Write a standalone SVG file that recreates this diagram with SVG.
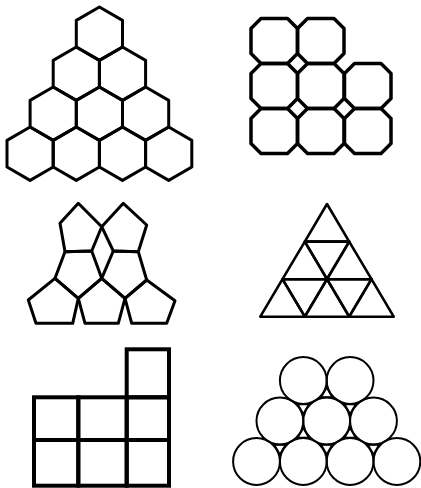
<svg xmlns="http://www.w3.org/2000/svg" xmlns:xlink="http://www.w3.org/1999/xlink" width="421" height="488" viewBox="0 0 421 488">
<style>
.ln{fill:none;stroke:#000;stroke-linejoin:round;stroke-linecap:round}
.hex{stroke-width:3}
.oct{stroke-width:3.5}
.pen{stroke-width:3}
.tri{stroke-width:2.6}
.sq{stroke-width:4;stroke-linejoin:miter;stroke-linecap:square}
.cir{stroke-width:2}
.gap{stroke-width:1.8}
</style>
<defs>
<polygon id="hx" points="0,-26.67 23.1,-13.33 23.1,13.33 0,26.67 -23.1,13.33 -23.1,-13.33"/>
<polygon id="oc" points="-13.25,-22.5 13.25,-22.5 23.25,-12.5 23.25,12.5 13.25,22.5 -13.25,22.5 -23.25,12.5 -23.25,-12.5"/>
<polygon id="tu" points="0,-6.5 5.6,3.25 -5.6,3.25"/>
<polygon id="td" points="0,6.5 5.6,-3.25 -5.6,-3.25"/>
</defs>
<rect width="421" height="488" fill="#fff"/>

<g id="hexagons" class="ln hex">
<g id="hex-r1-1"><use href="#hx" x="99.4" y="33.7"/></g>
<g id="hex-r2-1"><use href="#hx" x="76.3" y="73.7"/></g>
<g id="hex-r2-2"><use href="#hx" x="122.5" y="73.7"/></g>
<g id="hex-r3-1"><use href="#hx" x="53.2" y="113.7"/></g>
<g id="hex-r3-2"><use href="#hx" x="99.4" y="113.7"/></g>
<g id="hex-r3-3"><use href="#hx" x="145.6" y="113.7"/></g>
<g id="hex-r4-1"><use href="#hx" x="30.1" y="153.7"/></g>
<g id="hex-r4-2"><use href="#hx" x="76.3" y="153.7"/></g>
<g id="hex-r4-3"><use href="#hx" x="122.5" y="153.7"/></g>
<g id="hex-r4-4"><use href="#hx" x="168.7" y="153.7"/></g>
</g>

<g id="octagons" class="ln oct">
<g id="oct-r1-1"><use href="#oc" x="274.25" y="41"/></g>
<g id="oct-r1-2"><use href="#oc" x="320.75" y="41"/></g>
<g id="oct-r2-1"><use href="#oc" x="274.25" y="86"/></g>
<g id="oct-r2-2"><use href="#oc" x="320.75" y="86"/></g>
<g id="oct-r2-3"><use href="#oc" x="367.75" y="86"/></g>
<g id="oct-r3-1"><use href="#oc" x="274.25" y="131"/></g>
<g id="oct-r3-2"><use href="#oc" x="320.75" y="131"/></g>
<g id="oct-r3-3"><use href="#oc" x="367.75" y="131"/></g>
</g>

<g id="pentagons" class="ln pen">
<g id="pen-tl"><polygon points="78.3,203.3 101.7,226.7 91.7,251 65,251.7 60,223.3"/></g>
<g id="pen-tr"><polygon points="123.3,203.3 146.7,225 138.3,251.7 113.3,251 101.7,226.7"/></g>
<g id="pen-ml"><polygon points="65,251.7 91.7,251 101.7,278.3 78.3,298.3 55,278.3"/></g>
<g id="pen-mr"><polygon points="113.3,251 138.3,251.7 146.7,280 125,298.3 101.7,278.3"/></g>
<g id="pen-bl"><polygon points="55,278.3 78.3,298.3 72.7,323.3 36,323.3 28.3,300"/></g>
<g id="pen-bm"><polygon points="101.7,278.3 125,298.3 118.3,323.3 85,323.3 78.3,298.3"/></g>
<g id="pen-br"><polygon points="146.7,280 175,300.7 166.7,323.3 131.7,323.3 125,298.3"/></g>
</g>

<g id="triangles" class="ln tri">
<g id="tri-u1"><polygon points="327,204 304.8,241.6 349.2,241.6"/></g>
<g id="tri-u2"><polygon points="304.8,241.6 282.5,279.2 327,279.2"/></g>
<g id="tri-u3"><polygon points="349.2,241.6 327,279.2 371.5,279.2"/></g>
<g id="tri-u4"><polygon points="282.5,279.2 260.3,316.7 304.8,316.7"/></g>
<g id="tri-u5"><polygon points="327,279.2 304.8,316.7 349.2,316.7"/></g>
<g id="tri-u6"><polygon points="371.5,279.2 349.2,316.7 393.7,316.7"/></g>
<g id="tri-d1"><polygon points="304.8,241.6 349.2,241.6 327,279.2"/></g>
<g id="tri-d2"><polygon points="282.5,279.2 327,279.2 304.8,316.7"/></g>
<g id="tri-d3"><polygon points="327,279.2 371.5,279.2 349.2,316.7"/></g>
</g>

<g id="squares" class="ln sq">
<g id="sq-top"><rect x="126.7" y="349.3" width="42.3" height="48"/></g>
<g id="sq-m1"><rect x="34" y="397.3" width="44.3" height="42.7"/></g>
<g id="sq-m2"><rect x="78.3" y="397.3" width="48.4" height="42.7"/></g>
<g id="sq-m3"><rect x="126.7" y="397.3" width="42.3" height="42.7"/></g>
<g id="sq-b1"><rect x="34" y="440" width="44.3" height="45.7"/></g>
<g id="sq-b2"><rect x="78.3" y="440" width="48.4" height="45.7"/></g>
<g id="sq-b3"><rect x="126.7" y="440" width="42.3" height="45.7"/></g>
</g>

<g id="circles" class="ln cir">
<g id="cir-r1-1"><circle cx="303.3" cy="380.5" r="23.4"/></g>
<g id="cir-r1-2"><circle cx="350.1" cy="380.5" r="23.4"/></g>
<g id="cir-r2-1"><circle cx="279.9" cy="421" r="23.4"/></g>
<g id="cir-r2-2"><circle cx="326.7" cy="421" r="23.4"/></g>
<g id="cir-r2-3"><circle cx="373.5" cy="421" r="23.4"/></g>
<g id="cir-r3-1"><circle cx="256.5" cy="461.5" r="23.4"/></g>
<g id="cir-r3-2"><circle cx="303.3" cy="461.5" r="23.4"/></g>
<g id="cir-r3-3"><circle cx="350.1" cy="461.5" r="23.4"/></g>
<g id="cir-r3-4"><circle cx="396.9" cy="461.5" r="23.4"/></g>
</g>
<g id="circle-gaps" class="ln gap">
<use href="#tu" x="326.7" y="394"/>
<use href="#tu" x="303.3" y="434.5"/>
<use href="#tu" x="350.1" y="434.5"/>
<use href="#td" x="303.3" y="407.5"/>
<use href="#td" x="350.1" y="407.5"/>
<use href="#td" x="279.9" y="448"/>
<use href="#td" x="326.7" y="448"/>
<use href="#td" x="373.5" y="448"/>
</g>
</svg>
